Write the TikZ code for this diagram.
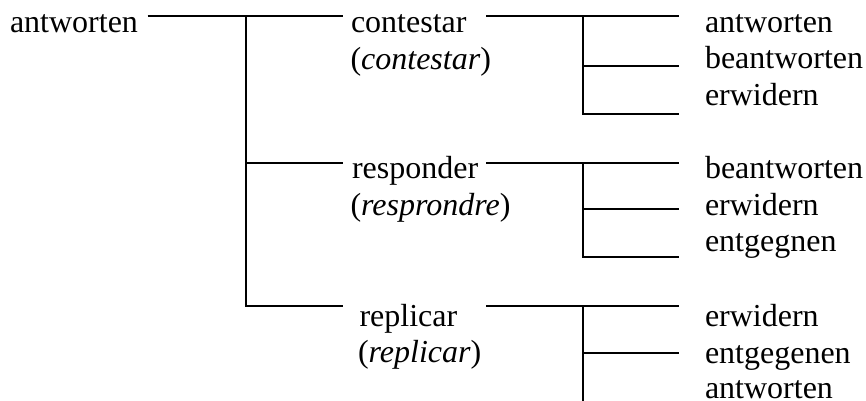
\documentclass[tikz,border=0pt]{standalone}
\usepackage{fontspec}
\setmainfont{Liberation Serif}
\begin{document}
\begin{tikzpicture}[x=1pt,y=-1pt,
  word/.style={anchor=base west,inner sep=0pt,outer sep=0pt,
    font=\fontsize{32}{36.7}\selectfont},
  branch/.style={line width=2pt,line join=miter}]
\useasboundingbox (0,0) rectangle (866,400);
\clip (0,0) rectangle (866,400);

% root word
\node[word] (root) at (10,32) {antworten};

% Spanish verbs with their glosses
\node[word] (contestar) at (351,32) {contestar};
\node[word] (contestarG) at (350.5,69) {(\textit{contestar})};
\node[word] (responder) at (352,178.5) {responder};
\node[word] (responderG) at (350.5,215) {(\textit{resprondre})};
\node[word] (replicar) at (359.5,326.5) {replicar};
\node[word] (replicarG) at (358,362.7) {(\textit{replicar})};

% German equivalents
\node[word] (a1) at (705,32) {antworten};
\node[word] (a2) at (705,68.7) {beantworten};
\node[word] (a3) at (705,105.4) {erwidern};
\node[word] (b1) at (705,178.5) {beantworten};
\node[word] (b2) at (705,215.2) {erwidern};
\node[word] (b3) at (705,251.9) {entgegnen};
\node[word] (c1) at (705,326.3) {erwidern};
\node[word] (c2) at (705,363) {entgegenen};
\node[word] (c3) at (705,398.8) {antworten};

% junction points of the first level
\coordinate (r0) at (147.7,16);
\coordinate (t0) at (246,16);
\coordinate (t1) at (246,162.5);
\coordinate (t2) at (246,306);
\coordinate (e0) at (342.7,16);
\coordinate (e1) at (342.7,162.5);
\coordinate (e2) at (342.7,306);

% junction points of the second level
\foreach \g/\y/\m/\b in {A/16/66/114, B/162.5/209.3/257, C/306/353.3/420}{
  \coordinate (\g s) at (486.3,\y);
  \coordinate (\g t) at (582.5,\y);
  \coordinate (\g e) at (678.5,\y);
  \coordinate (\g mt) at (582.5,\m);
  \coordinate (\g me) at (678.5,\m);
  \coordinate (\g bt) at (582.5,\b);
  \coordinate (\g be) at (678.5,\b);
}

% first level tree
\draw[branch] (r0) -- (e0);
\draw[branch] (t0) -- (t2) -- (e2);
\draw[branch] (t1) -- (e1);

% second level trees
\draw[branch] (As) -- (Ae);
\draw[branch] (At) -- (Abt) -- (Abe);
\draw[branch] (Amt) -- (Ame);
\draw[branch] (Bs) -- (Be);
\draw[branch] (Bt) -- (Bbt) -- (Bbe);
\draw[branch] (Bmt) -- (Bme);
\draw[branch] (Cs) -- (Ce);
\draw[branch] (Ct) -- (Cbt);
\draw[branch] (Cmt) -- (Cme);
\end{tikzpicture}
\end{document}
